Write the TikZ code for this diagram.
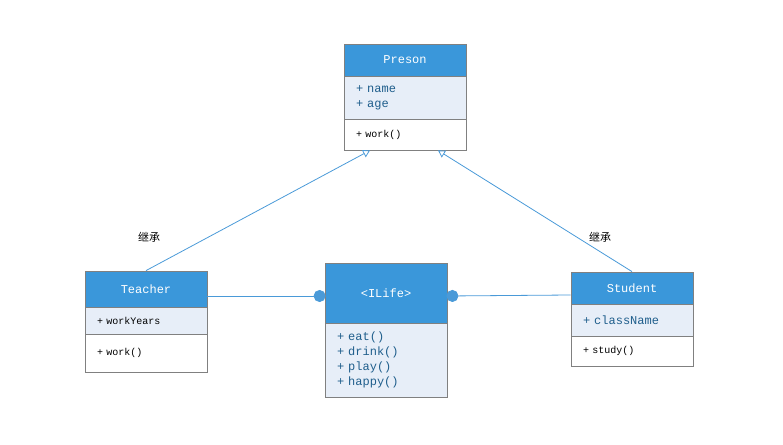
\documentclass[tikz,border=0pt]{standalone}
\usepackage{fontspec}
\setmonofont{Liberation Mono}
\newfontfamily\cjkfont{Noto Sans CJK SC}
\usetikzlibrary{arrows.meta}
\definecolor{umlblue}{HTML}{3A97DA}
\definecolor{umlpale}{HTML}{E7EEF8}
\definecolor{umlgray}{HTML}{808080}
\definecolor{umlline}{HTML}{4A9AD8}
\definecolor{umltext}{HTML}{1F5E8C}
\tikzstyle{head} = [rectangle, draw=umlgray, line width=0.8pt, fill=umlblue,
    text=white, text width=98pt, inner xsep=12pt, inner ysep=0pt, align=center,
    font=\ttfamily\fontsize{12}{15}\selectfont]
\tikzstyle{attr} = [rectangle, draw=umlgray, line width=0.8pt, fill=umlpale,
    text=umltext, text width=98pt, inner xsep=12pt, inner ysep=0pt, align=left,
    font=\ttfamily\fontsize{12}{15}\selectfont]
\tikzstyle{meth} = [rectangle, draw=umlgray, line width=0.8pt, fill=white,
    text width=98pt, inner xsep=12pt, inner ysep=0pt, align=left,
    font=\ttfamily\fontsize{10}{13}\selectfont]
\tikzstyle{inherit} = [draw=umlline, line width=0.8pt, -{Triangle[open, length=7pt, width=8pt]}]
\tikzstyle{realize} = [draw=umlline, line width=0.8pt, -{Circle[length=12pt]}, shorten >=-1pt]
\tikzstyle{note} = [font=\cjkfont\fontsize{11}{13}\selectfont]

\begin{document}
\begin{tikzpicture}[x=1pt, y=1pt]
    \useasboundingbox (0,0) rectangle (783,444);
    % Place nodes
    \node [head, minimum height=32pt] (phead) at (405,384) {Preson};
    \node [attr, below of=phead, node distance=37.5pt, minimum height=43pt] (pattr) {+ name\\+ age};
    \node [meth, below of=pattr, node distance=37pt, minimum height=31pt] (pmeth) {+ work()};

    \node [head, minimum height=36pt] (thead) at (146,155) {Teacher};
    \node [meth, below of=thead, node distance=31.5pt, minimum height=27pt, fill=umlpale] (tattr) {+ workYears};
    \node [meth, below of=tattr, node distance=32.5pt, minimum height=38pt] (tmeth) {+ work()};

    \node [head, minimum height=60pt] (ihead) at (386,151) {<ILife>};
    \node [attr, below of=ihead, node distance=67pt, minimum height=74pt] (ibody) {+ eat()\\+ drink()\\+ play()\\+ happy()};

    \node [head, minimum height=32pt] (shead) at (632,156) {Student};
    \node [attr, below of=shead, node distance=32pt, minimum height=32pt] (sattr) {+ className};
    \node [meth, below of=sattr, node distance=31pt, minimum height=30pt] (smeth) {+ study()};

    \node [note] (tnote) at (149,207) {继承};
    \node [note] (snote) at (600,207) {继承};

    % Draw edges
    \path [inherit] (thead.north) -- ([xshift=-35pt]pmeth.south);
    \path [inherit] (shead.north) -- ([xshift=33pt]pmeth.south);
    \path [realize] ([yshift=-7pt]thead.east) -- ([yshift=-3pt]ihead.west);
    \path [realize] ([yshift=-7pt]shead.west) -- ([yshift=-3pt]ihead.east);
\end{tikzpicture}
\end{document}
